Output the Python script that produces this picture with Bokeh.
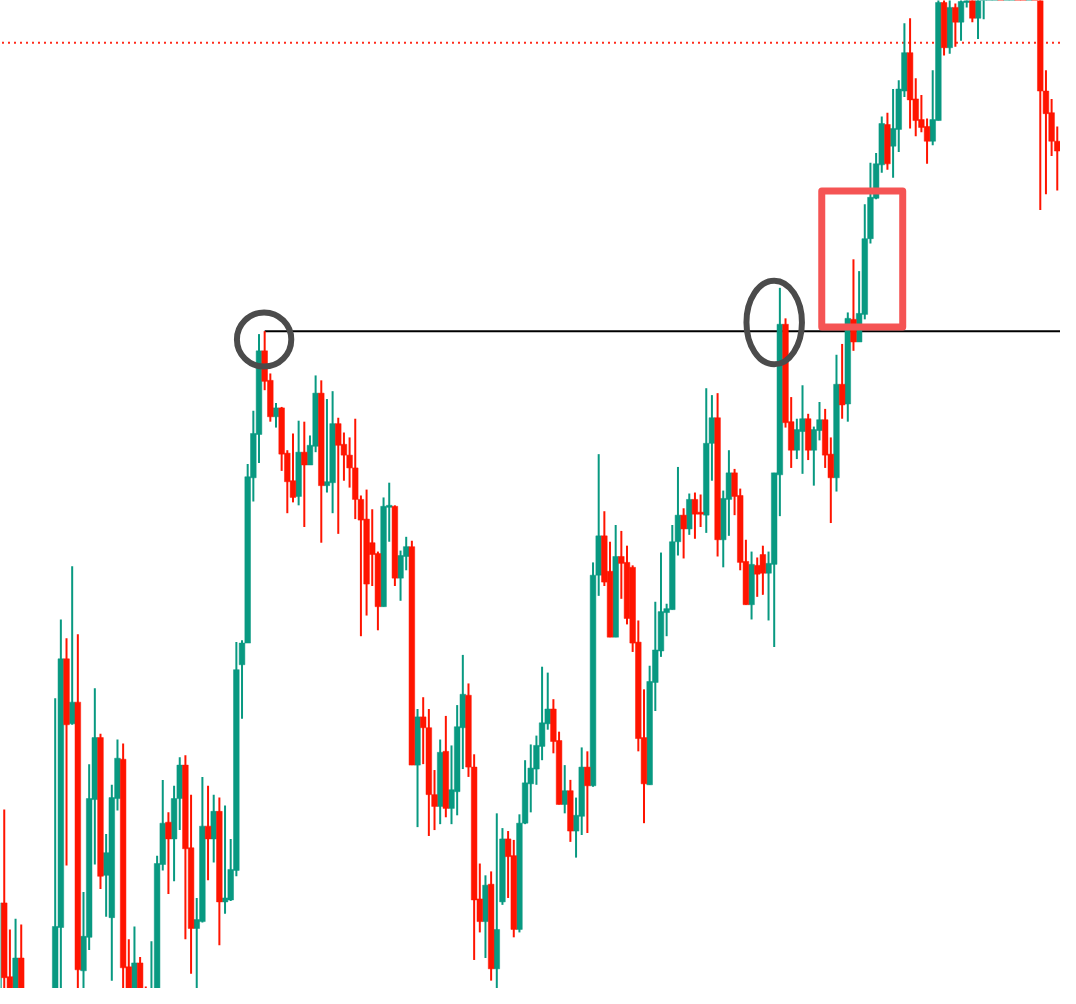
from bokeh.plotting import figure
from bokeh.models import ColumnDataSource, Range1d
from bokeh.embed import file_html
from bokeh.resources import INLINE

# ---- OHLC data (one candle per period) ----
open_ = [75, 183, 108, 80, 127, 60, 40, 20, 35, 25,
         40, 158, 431, 365, 387, 114, 148, 288, 351, 211,
         168, 289, 329, 118, 80, 122, 75, 40, 90, 222,
         265, 248, 289, 323, 239, 157, 164, 261, 248, 276,
         184, 186, 216, 425, 447, 615, 659, 744, 714, 677,
         686, 640, 612, 596, 641, 628, 647, 701, 607, 610,
         670, 649, 638, 625, 593, 573, 549, 538, 484, 585,
         586, 513, 535, 545, 323, 372, 361, 293, 281, 337,
         279, 296, 361, 394, 321, 187, 164, 202, 116, 184,
         248, 231, 156, 264, 304, 319, 342, 365, 380, 348,
         283, 297, 256, 271, 321, 302, 516, 556, 520, 453,
         535, 529, 524, 448, 351, 303, 407, 439, 478, 481,
         550, 577, 563, 593, 580, 577, 650, 676, 552, 593,
         620, 597, 530, 486, 526, 537, 518, 527, 618, 771,
         672, 643, 662, 675, 643, 663, 674, 639, 615, 710,
         690, 776, 753, 781, 858, 899, 933, 974, 952, 969,
         1008, 1047, 1000, 979, 972, 957, 978, 1098, 1052, 1093,
         1078, 1098, 1120, 1082, 1105, 1140, 1170, 1195, 1180, 1220,
         1240, 1210, 1190, 1200, 1160, 1008, 986, 957]

high = [190, 278, 156, 167, 161, 70, 50, 45, 40, 50,
        391, 471, 452, 525, 456, 194, 324, 401, 355, 253,
        303, 349, 345, 146, 159, 128, 98, 144, 231, 308,
        275, 302, 331, 333, 293, 188, 311, 302, 293, 290,
        282, 248, 448, 450, 629, 683, 761, 764, 721, 691,
        687, 643, 660, 673, 672, 658, 719, 714, 695, 703,
        676, 661, 656, 675, 597, 603, 583, 540, 595, 610,
        587, 541, 555, 551, 380, 392, 380, 318, 349, 373,
        343, 384, 435, 406, 334, 223, 211, 215, 274, 259,
        256, 247, 273, 328, 344, 353, 423, 417, 390, 357,
        323, 308, 290, 341, 337, 529, 639, 581, 550, 567,
        561, 546, 526, 470, 400, 424, 489, 539, 487, 567,
        626, 584, 599, 600, 598, 706, 699, 701, 602, 643,
        624, 604, 552, 540, 534, 546, 540, 620, 808, 777,
        697, 675, 709, 680, 667, 692, 685, 656, 740, 751,
        783, 837, 825, 893, 935, 945, 982, 986, 1010, 1019,
        1077, 1082, 1021, 1004, 980, 1029, 1108, 1110, 1105, 1097,
        1106, 1125, 1130, 1120, 1150, 1180, 1210, 1205, 1230, 1260,
        1250, 1220, 1215, 1210, 1180, 1029, 1000, 972]

low = [65, 90, 70, 72, 50, 25, 10, 5, 15, 20,
       30, 85, 221, 364, 90, 88, 135, 222, 197, 169,
       104, 277, 90, 70, 70, 50, 30, 30, 85, 216,
       192, 205, 257, 146, 111, 92, 163, 206, 224, 140,
       172, 185, 210, 370, 447, 591, 630, 704, 672, 666,
       622, 579, 590, 587, 565, 628, 641, 549, 600, 579,
       558, 612, 605, 573, 454, 475, 505, 460, 484, 550,
       505, 490, 521, 323, 260, 324, 251, 257, 263, 270,
       263, 272, 319, 311, 125, 153, 127, 104, 94, 181,
       188, 148, 153, 263, 275, 303, 328, 359, 335, 283,
       274, 245, 229, 252, 254, 301, 495, 505, 453, 453,
       492, 466, 438, 337, 264, 303, 378, 433, 454, 481,
       536, 533, 557, 553, 565, 559, 612, 535, 524, 556,
       577, 521, 486, 471, 494, 496, 470, 443, 576, 666,
       625, 634, 619, 633, 607, 653, 625, 569, 601, 675,
       672, 744, 753, 776, 853, 898, 925, 928, 920, 946,
       1002, 970, 962, 966, 934, 953, 978, 1044, 1046, 1053,
       1059, 1093, 1078, 1061, 1081, 1135, 1160, 1160, 1175, 1210,
       1200, 1170, 1180, 1140, 887, 903, 942, 907]

close = [183, 107, 80, 127, 60, 40, 20, 35, 25, 40,
         159, 431, 364, 387, 115, 149, 289, 351, 210, 234,
         290, 330, 117, 80, 122, 60, 40, 90, 223, 264,
         248, 289, 323, 238, 157, 166, 261, 248, 276, 184,
         188, 217, 420, 447, 616, 660, 744, 713, 677, 686,
         639, 611, 595, 641, 628, 648, 701, 607, 611, 670,
         648, 638, 625, 593, 572, 507, 537, 484, 586, 587,
         513, 536, 545, 323, 372, 361, 293, 281, 336, 279,
         298, 362, 395, 321, 186, 164, 201, 116, 156, 248,
         230, 156, 264, 305, 320, 343, 366, 380, 347, 283,
         297, 256, 272, 321, 302, 516, 556, 509, 453, 535,
         528, 472, 447, 350, 304, 408, 440, 479, 482, 550,
         577, 563, 593, 578, 578, 650, 676, 552, 594, 620,
         596, 529, 486, 527, 517, 518, 528, 620, 771, 671,
         643, 664, 675, 643, 664, 674, 638, 615, 710, 689,
         777, 753, 782, 858, 900, 934, 975, 934, 970, 1010,
         1047, 999, 978, 971, 957, 979, 1098, 1052, 1093, 1078,
         1099, 1115, 1082, 1110, 1140, 1170, 1195, 1180, 1220, 1240,
         1210, 1190, 1200, 1160, 1008, 985, 957, 947]

# ---- levels / annotations ----
resistance_start = 47          # candle whose high defines the level
target_level = 1057            # dotted level
circle_candles = [46.9, 137.0]
circle_prices = [755.5, 772.8]
circle_widths = [9.6, 9.8]     # in candle units
circle_heights = [55, 85]      # in price units
box_left, box_right = 145.4, 159.7
box_bottom, box_top = 768.2, 906.5

GREEN = "#089981"
RED = "#FF1400"

n = len(open_)
idx = list(range(n))

def src(sel):
    ii = [i for i in idx if sel(i)]
    return ColumnDataSource(dict(
        x=ii,
        top=[max(open_[i], close[i]) for i in ii],
        bottom=[min(open_[i], close[i]) for i in ii],
        high=[high[i] for i in ii],
        low=[low[i] for i in ii],
    ))

up_src = src(lambda i: close[i] >= open_[i])
dn_src = src(lambda i: close[i] < open_[i])

p = figure(width=1060, height=988,
           x_range=Range1d(0.339, 187.57), y_range=Range1d(96, 1100),
           output_backend="svg", toolbar_location=None,
           x_axis_type=None, y_axis_type=None, min_border=0)
p.grid.visible = False
p.outline_line_color = None
p.background_fill_color = "white"
p.border_fill_color = "white"

# target dotted level
p.segment(x0=[0.6], y0=[target_level], x1=[200], y1=[target_level],
          line_color="#FF2A1A", line_width=2, line_dash="2 4")

# resistance level from the swing high
p.segment(x0=[resistance_start], y0=[high[resistance_start]], x1=[200],
          y1=[high[resistance_start]], line_color="black", line_width=2)

for s, col in ((up_src, GREEN), (dn_src, RED)):
    p.segment(x0="x", y0="low", x1="x", y1="high", source=s,
              line_color=col, line_width=2)
    p.vbar(x="x", top="top", bottom="bottom", width=1.0, source=s,
           fill_color=col, line_color=col, line_width=0.5)

p.ellipse(x=circle_candles, y=circle_prices, width=circle_widths,
          height=circle_heights, fill_color=None, line_color="#4B4B4B",
          line_width=6)

p.quad(left=[box_left], right=[box_right], bottom=[box_bottom], top=[box_top],
       fill_color=None, line_color="#F55454", line_width=7, line_join="round")

open("out.html", "w").write(file_html(p, INLINE))
